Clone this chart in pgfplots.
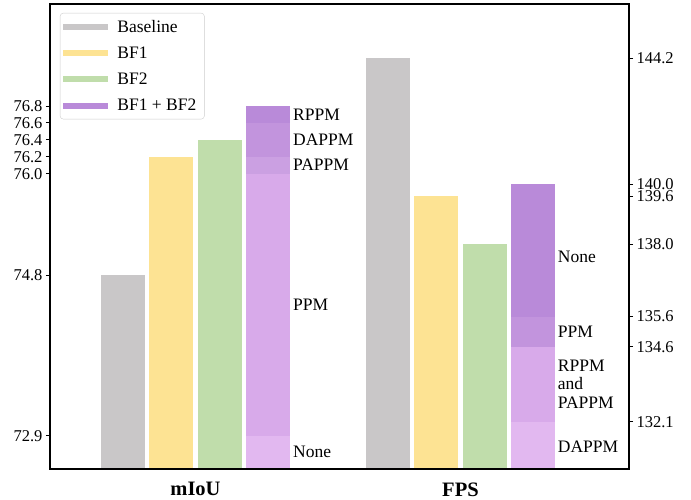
\documentclass[border=0pt]{standalone}
\usepackage{pgfplots}
\pgfplotsset{compat=1.18}
\usepackage{fontspec}
\setmainfont{Liberation Serif}
\definecolor{cgray}{HTML}{C9C7C8}
\definecolor{cyel}{HTML}{FDE393}
\definecolor{cgrn}{HTML}{C0DDAB}
\definecolor{pa}{HTML}{B98AD9}
\definecolor{pb}{HTML}{C294DD}
\definecolor{pc}{HTML}{CBA0E2}
\definecolor{pd}{HTML}{D8AAEA}
\definecolor{pe}{HTML}{E2B8F0}
\pgfplotsset{
  base/.style={width=579pt,height=465pt,scale only axis,
    xmin=-0.549,xmax=1.636,
    axis line style={line width=1.1pt},
    tick style={line width=0.9pt,black},
    tick align=outside, major tick length=4pt,
    axis on top, clip mode=individual,
    /pgf/number format/assume math mode=true,
    ticklabel style={font=\fontsize{16.5}{19}\selectfont},
    yticklabel style={/pgf/number format/.cd,fixed,fixed zerofill,precision=1},
  },
  bb/.style={ybar,bar width=0.166,bar shift=0pt,draw=none,fill=#1,forget plot},
  lg/.style={legend image code/.code={\fill[fill=#1,draw=none,sharp corners] (0pt,-3pt) rectangle (45pt,3pt);\path (49pt,0pt);}},
}
\tikzset{lbl/.style={anchor=west,inner sep=0pt,font=\fontsize{17.5}{18.5}\selectfont,align=left}}
\begin{document}
\begin{tikzpicture}
\begin{axis}[base,name=a1,
  ymin=72.506,ymax=78.007,
  ytick={72.9,74.8,76.0,76.2,76.4,76.6,76.8},
  ytick pos=left,
  xtick={0,1},xticklabels={mIoU,FPS},xtick pos=bottom,
  major x tick style={draw=none},
  xticklabel style={font=\bfseries\fontsize{20.5}{24}\selectfont,yshift=-6pt},
  legend cell align=left,
  legend style={at={(0,1)},anchor=north west,xshift=10pt,yshift=-9pt,
    draw=black!20,rounded corners=3pt,font=\fontsize{17.5}{21}\selectfont,
    row sep=9pt,inner xsep=3pt,inner ysep=5pt,
    nodes={inner xsep=5pt}},
]
\addplot[bb=cgray] coordinates {(-0.274,74.8)};
\addplot[bb=cyel] coordinates {(-0.092,76.2)};
\addplot[bb=cgrn] coordinates {(0.092,76.4)};
% BF1 + BF2 stacked segments (drawn tallest first)
\addplot[bb=pa] coordinates {(0.275,76.8)};
\addplot[bb=pb] coordinates {(0.275,76.6)};
\addplot[bb=pc] coordinates {(0.275,76.2)};
\addplot[bb=pd] coordinates {(0.275,76.0)};
\addplot[bb=pe] coordinates {(0.275,72.9)};
\addlegendimage{lg=cgray}\addlegendentry{Baseline}
\addlegendimage{lg=cyel}\addlegendentry{BF1}
\addlegendimage{lg=cgrn}\addlegendentry{BF2}
\addlegendimage{lg=pa}\addlegendentry{BF1 + BF2}
\node[lbl] at (axis cs:0.368,76.7) {RPPM};
\node[lbl] at (axis cs:0.368,76.4) {DAPPM};
\node[lbl] at (axis cs:0.368,76.1) {PAPPM};
\node[lbl] at (axis cs:0.368,74.45) {PPM};
\node[lbl] at (axis cs:0.368,72.71) {None};
\end{axis}
\begin{axis}[base,
  ymin=130.53,ymax=146.0,
  axis y line*=right, axis x line*=bottom,
  xtick=\empty,
  ytick={132.1,134.6,135.6,138.0,139.6,140.0,144.2},
]
\addplot[bb=cgray] coordinates {(0.726,144.2)};
\addplot[bb=cyel] coordinates {(0.908,139.6)};
\addplot[bb=cgrn] coordinates {(1.092,138.0)};
\addplot[bb=pa] coordinates {(1.274,140.0)};
\addplot[bb=pb] coordinates {(1.274,135.6)};
\addplot[bb=pd] coordinates {(1.274,134.6)};
\addplot[bb=pe] coordinates {(1.274,132.1)};
\node[lbl] at (axis cs:1.367,137.58) {None};
\node[lbl] at (axis cs:1.367,135.1) {PPM};
\node[lbl] at (axis cs:1.367,133.35) {RPPM\\and\\PAPPM};
\node[lbl] at (axis cs:1.367,131.26) {DAPPM};
\end{axis}
\path (a1.south west) ++(-50pt,-30pt) rectangle ++(691pt,499pt);
\end{tikzpicture}
\end{document}
